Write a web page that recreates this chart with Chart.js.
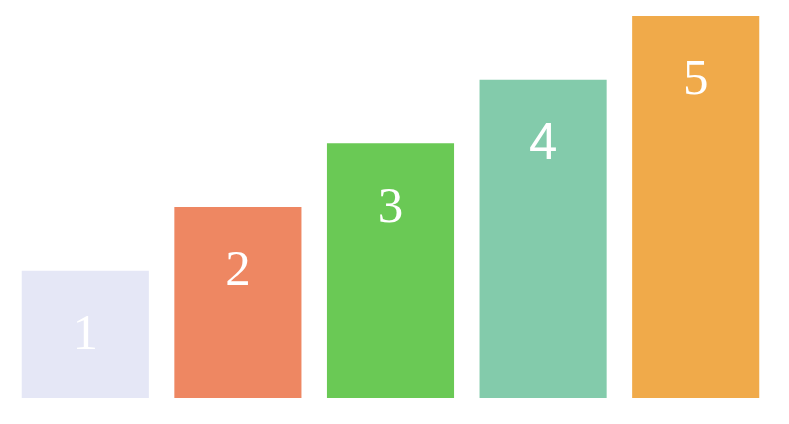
<!DOCTYPE html>
<html><head><meta charset="utf-8">
<script src="https://cdn.jsdelivr.net/npm/chart.js@4/dist/chart.umd.min.js"></script>
<style>html,body{margin:0;padding:0;background:#fff;}#wrap{width:789px;height:424px;}</style>
</head><body><div id="wrap"><canvas id="c"></canvas></div>
<script>
const categories = ["1", "2", "3", "4", "5"];
const values = [1, 2, 3, 4, 5];
const labels = ["1", "2", "3", "4", "5"];
const colors = ["#e5e7f6", "#ee8762", "#6ac955", "#83cbab", "#f0aa4a"];
const labelFonts = ["'Liberation Serif', serif", "'Liberation Serif', serif", "'Liberation Serif', serif", "'Liberation Sans', sans-serif", "'Liberation Serif', serif"];

const labelPlugin = {
  id: 'inlabels',
  afterDatasetsDraw(chart) {
    const ctx = chart.ctx;
    const meta = chart.getDatasetMeta(0);
    ctx.save();
    ctx.fillStyle = '#ffffff';
    ctx.textAlign = 'center';
    ctx.textBaseline = 'middle';
    meta.data.forEach((bar, i) => {
      ctx.font = '51px ' + labelFonts[i];
      ctx.fillText(labels[i], bar.x, bar.y + 65);
    });
    ctx.restore();
  }
};

new Chart(document.getElementById('c'), {
  type: 'bar',
  data: {
    labels: categories,
    datasets: [{
      data: values,
      base: -1,
      backgroundColor: colors,
      borderWidth: 0,
      barPercentage: 0.833,
      categoryPercentage: 1
    }]
  },
  options: {
    responsive: true,
    maintainAspectRatio: false,
    animation: false,
    layout: { padding: { left: 9, right: 17, top: 16, bottom: 26 } },
    plugins: { legend: { display: false }, tooltip: { enabled: false } },
    scales: {
      x: { display: false },
      y: { display: false, min: -1, max: 5 }
    }
  },
  plugins: [labelPlugin]
});
</script></body></html>
